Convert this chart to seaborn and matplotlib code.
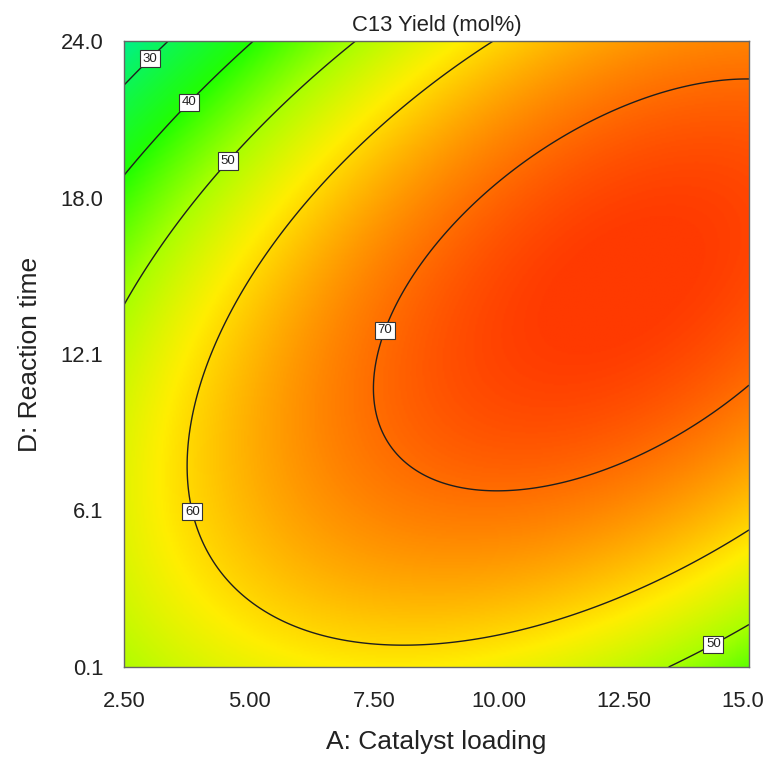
import numpy as np
import matplotlib
matplotlib.use("Agg")
import matplotlib.pyplot as plt
import seaborn as sns

# ---- data (response-surface model, coded units -1..1) ----
factor_A_range = [2.5, 15.0]          # A: Catalyst loading
factor_D_range = [0.1, 24.0]          # D: Reaction time
coef_intercept = 72.14
coef_linear = [9.43, -0.78]           # A, D
coef_interaction = 12.47              # AD
coef_quadratic = [-10.26, -15.0]      # A^2, D^2
contour_levels = [30, 40, 50, 60, 70]

x_ticks = [2.5, 5.0, 7.5, 10.0, 12.5, 15.0]
x_tick_labels = ["2.50", "5.00", "7.50", "10.00", "12.50", "15.00"]
y_ticks = [0.1, 6.075, 12.05, 18.025, 24.0]
y_tick_labels = ["0.1", "6.1", "12.1", "18.0", "24.0"]

title = "C13 Yield (mol%)"
x_label = "A: Catalyst loading"
y_label = "D: Reaction time"

# colour ramp (value -> colour)
ramp_values = [24.0, 40.0, 50.0, 58.0, 70.0, 74.5]
ramp_colors = ["#00F08A", "#22FF00", "#AAFF00", "#FFEE00", "#FF6E00", "#FF3A00"]

# label placement (data coords)
label_positions = [(2.94, 23.47), (3.74, 21.79), (4.54, 19.49),
                   (7.74, 12.93), (3.94, 6.06), (14.22, 1.21)]

# ---- build surface ----
A = np.linspace(factor_A_range[0], factor_A_range[1], 400)
D = np.linspace(factor_D_range[0], factor_D_range[1], 400)
AA, DD = np.meshgrid(A, D)
a = (AA - np.mean(factor_A_range)) / (np.diff(factor_A_range)[0] / 2)
d = (DD - np.mean(factor_D_range)) / (np.diff(factor_D_range)[0] / 2)
Z = (coef_intercept + coef_linear[0] * a + coef_linear[1] * d
     + coef_interaction * a * d + coef_quadratic[0] * a ** 2 + coef_quadratic[1] * d ** 2)

sns.set_style("white")
plt.rcParams["font.family"] = ["Liberation Sans", "DejaVu Sans"]

vmin, vmax = ramp_values[0], ramp_values[-1]
stops = [((v - vmin) / (vmax - vmin), c) for v, c in zip(ramp_values, ramp_colors)]
cmap = matplotlib.colors.LinearSegmentedColormap.from_list("de", stops)

fig = plt.figure(figsize=(7.64, 7.58), dpi=100)
ax = fig.add_axes([124 / 764, 1 - 667 / 758, 625 / 764, 626 / 758])

ax.imshow(Z, origin="lower", extent=[A[0], A[-1], D[0], D[-1]], aspect="auto",
          cmap=cmap, vmin=vmin, vmax=vmax, interpolation="bilinear")
cs = ax.contour(AA, DD, Z, levels=contour_levels, colors="#1e1e1e", linewidths=1.0)
texts = ax.clabel(cs, inline=False, fmt="%d", fontsize=9.5, colors="#222222",
                  manual=label_positions)
for t in texts:
    t.set_rotation(0)
    t.set_fontsize(9.5)
    t.set_bbox(dict(boxstyle="square,pad=0.2", fc="white", ec="#333333", lw=0.8))

ax.set_xlim(factor_A_range)
ax.set_ylim(factor_D_range)
ax.set_xticks(x_ticks)
ax.set_xticklabels(x_tick_labels)
ax.set_yticks(y_ticks)
ax.set_yticklabels(y_tick_labels)
ax.tick_params(direction="out", length=11, width=1.0, color="#555555",
               labelsize=15.8, labelcolor="#222222", pad=4)
ax.tick_params(axis="x", pad=6)
for s in ax.spines.values():
    s.set_color("#666666")
    s.set_linewidth(1.0)

ax.set_title(title, fontsize=15.8, color="#222222", pad=7.5)
ax.set_xlabel(x_label, fontsize=19, color="#222222")
ax.set_ylabel(y_label, fontsize=19, color="#222222")
ax.xaxis.set_label_coords(0.5, -(742 - 667) / 626)
ax.xaxis.label.set_va("center")
ax.yaxis.set_label_coords(-(124 - 30) / 625, 0.5)
ax.yaxis.label.set_va("center")

fig.savefig("out.png", dpi=100)
